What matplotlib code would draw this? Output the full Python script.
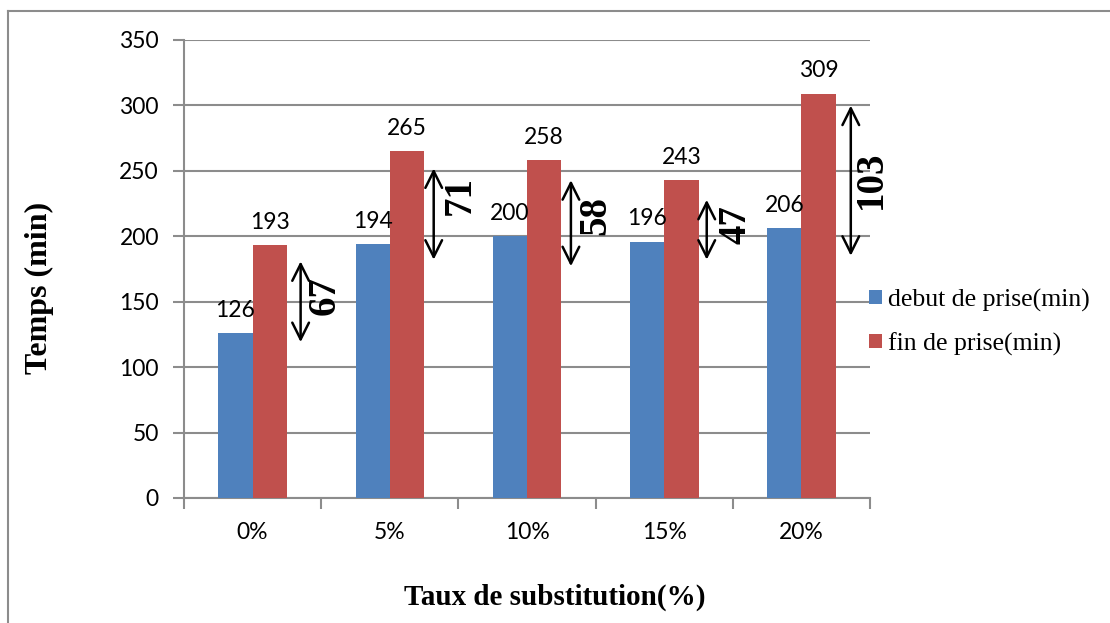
import numpy as np
import matplotlib.pyplot as plt
from matplotlib.lines import Line2D

categories = ['0%', '5%', '10%', '15%', '20%']
debut = [126, 194, 200, 196, 206]
fin = [193, 265, 258, 243, 309]
ecarts = [67, 71, 58, 47, 103]

# placement of the hand-drawn double arrows (data units)
arrow_x = [0.35, 1.32, 2.32, 3.31, 4.36]
arrow_lo = [117, 180, 175, 180, 183]
arrow_hi = [183, 254, 245, 230, 302]
label_x = [0.53, 1.51, 2.50, 3.52, 4.51]
label_y = [155, 231, 216, 209, 243]

blue = '#4F81BD'
red = '#C0504D'
grid_c = '#8C8C8C'
sans = ['Lato', 'DejaVu Sans']
serif = 'Liberation Serif'

fig = plt.figure(figsize=(11.1, 6.23), dpi=100)
ax = fig.add_axes([184/1110, 125/623, 686/1110, 458/623])

x = np.arange(len(categories))
w = 0.25
b1 = ax.bar(x - w/2, debut, w, color=blue, label='debut de prise(min)', zorder=3)
b2 = ax.bar(x + w/2, fin, w, color=red, label='fin de prise(min)', zorder=3)

for i in range(len(categories)):
    ax.annotate(str(debut[i]), (x[i] - w/2, debut[i]), xytext=(0, 9), textcoords='offset points',
                ha='center', va='bottom', fontsize=16.5, family=sans)
    ax.annotate(str(fin[i]), (x[i] + w/2, fin[i]), xytext=(0, 9), textcoords='offset points',
                ha='center', va='bottom', fontsize=16.5, family=sans)
    ax.annotate('', xy=(arrow_x[i], arrow_hi[i]), xytext=(arrow_x[i], arrow_lo[i]),
                arrowprops=dict(arrowstyle='<->', color='black', lw=1.8, mutation_scale=30), zorder=5)
    ax.text(label_x[i], label_y[i], str(ecarts[i]), rotation=90, ha='center', va='center',
            fontsize=28, fontweight='bold', family=serif, zorder=5)

ax.set_xlim(-0.5, 4.5)
ax.set_ylim(0, 350)
ax.set_yticks(range(0, 351, 50))
ax.yaxis.grid(True, color=grid_c, lw=1.5, zorder=0)
ax.set_axisbelow(True)
for s in ['top', 'right']:
    ax.spines[s].set_visible(False)
for s in ['left', 'bottom']:
    ax.spines[s].set_color(grid_c)
    ax.spines[s].set_linewidth(1.5)

ax.set_xticks(x)
ax.set_xticklabels(categories, fontsize=16.5, family=sans)
ax.tick_params(axis='x', length=0, pad=17)
ax.set_xticks(np.arange(-0.5, 5, 1), minor=True)
ax.tick_params(axis='x', which='minor', length=8, width=1.5, color=grid_c, direction='out')
ax.tick_params(axis='y', length=8, width=1.5, color=grid_c, labelsize=16.5, pad=10)
for lab in ax.get_yticklabels():
    lab.set_family(sans)

ax.set_ylabel('Temps (min)', fontsize=23, fontweight='bold', family=serif, va='center')
ax.yaxis.set_label_coords(-0.21, 0.4585)
ax.set_xlabel('Taux de substitution(%)', fontsize=21, fontweight='bold', family=serif, va='center')
ax.xaxis.set_label_coords(0.541, -0.216)

fig.legend(handles=[b1, b2], loc='center left', bbox_to_anchor=(869/1110, 1 - 322/623),
           frameon=False, prop={'family': serif, 'size': 18.5}, handlelength=0.5, handleheight=0.5,
           handletextpad=0.25, labelspacing=0.8, borderpad=0, borderaxespad=0)

# outer frame of the chart area
fig.add_artist(Line2D([8/1110, 1.0], [1 - 11/623, 1 - 11/623], color=grid_c, lw=1.5))
fig.add_artist(Line2D([8/1110, 8/1110], [0, 1 - 11/623], color=grid_c, lw=1.5))

fig.savefig('out.png', dpi=100)
